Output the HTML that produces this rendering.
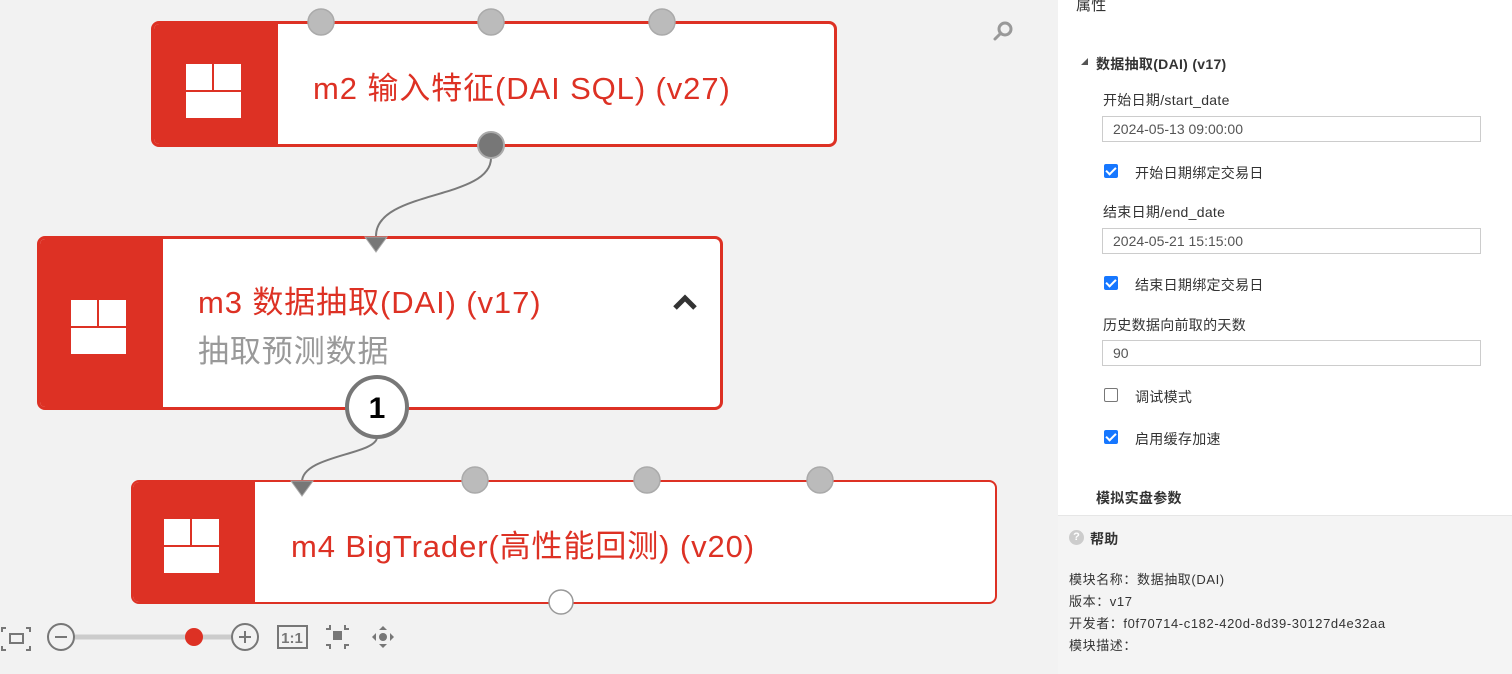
<!DOCTYPE html>
<html><head><meta charset="utf-8"><style>
*{margin:0;padding:0;box-sizing:border-box}
body{width:1512px;height:674px;overflow:hidden;background:#f2f2f2;font-family:"Liberation Sans","Noto Sans CJK SC",sans-serif;position:relative}
.a{position:absolute;white-space:nowrap}
.node{position:absolute;background:#fff;border:3px solid #dd3124;border-radius:8px;overflow:hidden}
.node .l{position:absolute;left:0;top:0;bottom:0;background:#dd3124}
.ic{position:absolute;width:55px;height:54px}
.ic div{position:absolute;background:#fff}
.t{position:absolute;color:#dd3124;font-size:31px;letter-spacing:0.9px;white-space:nowrap;font-family:"Liberation Sans","Noto Sans CJK SC",sans-serif}
#panel{position:absolute;left:1058px;top:0;width:454px;height:674px;background:#fff}
.lab{position:absolute;font-size:14px;color:#333;white-space:nowrap;letter-spacing:0.3px}
.inp{position:absolute;left:1102px;width:379px;height:26px;border:1px solid #ccc;font-size:14px;color:#555;padding:4px 10px;font-family:"Liberation Sans",sans-serif}
.cb{position:absolute;left:1104px;width:14px;height:14px;border-radius:2px;background:#1677ff}
.cb:after{content:"";position:absolute;left:4px;top:1px;width:4px;height:8px;border:solid #fff;border-width:0 2px 2px 0;transform:rotate(45deg)}
.cb.off{background:#fff;border:1px solid #777}
.cb.off:after{display:none}
</style></head><body>
<svg class="a" style="left:0;top:0" width="1058" height="674">
<path d="M491,158 C491,200 376,190 376,236" stroke="#7a7a7a" stroke-width="2" fill="none"/>
<path d="M377,437 C377,455 302,455 302,482" stroke="#7a7a7a" stroke-width="2" fill="none"/>
</svg>

<div class="node" style="left:151px;top:21px;width:686px;height:126px">
 <div class="l" style="width:124px"></div>
 <div class="ic" style="left:32px;top:40px"><div style="left:0;top:0;width:26px;height:26px"></div><div style="left:28px;top:0;width:27px;height:26px"></div><div style="left:0;top:28px;width:55px;height:26px"></div></div>
 <div class="t" style="left:159px;top:39px">m2 输入特征(DAI SQL) (v27)</div>
</div>

<div class="node" style="left:37px;top:236px;width:686px;height:174px">
 <div class="l" style="width:123px"></div>
 <div class="ic" style="left:31px;top:61px"><div style="left:0;top:0;width:26px;height:26px"></div><div style="left:28px;top:0;width:27px;height:26px"></div><div style="left:0;top:28px;width:55px;height:26px"></div></div>
 <div class="t" style="left:158px;top:38px">m3 数据抽取(DAI) (v17)</div>
 <div class="t" style="left:158px;top:87px;color:#999">抽取预测数据</div>
 <svg class="a" style="left:632px;top:54px" width="26" height="18"><path d="M3,15 L13,5 L23,15" stroke="#333" stroke-width="5" fill="none"/></svg>
</div>

<div class="node" style="left:131px;top:480px;width:866px;height:124px;border-width:2px">
 <div class="l" style="width:122px"></div>
 <div class="ic" style="left:31px;top:37px"><div style="left:0;top:0;width:26px;height:26px"></div><div style="left:28px;top:0;width:27px;height:26px"></div><div style="left:0;top:28px;width:55px;height:26px"></div></div>
 <div class="t" style="left:158px;top:39px">m4 BigTrader(高性能回测) (v20)</div>
</div>

<svg class="a" style="left:0;top:0" width="1058" height="674">
<g fill="#bbb" stroke="#aaa" stroke-width="1.5">
<circle cx="321" cy="22" r="13"/><circle cx="491" cy="22" r="13"/><circle cx="662" cy="22" r="13"/>
<circle cx="475" cy="480" r="13"/><circle cx="647" cy="480" r="13"/><circle cx="820" cy="480" r="13"/>
</g>
<circle cx="491" cy="145" r="13" fill="#777" stroke="#aaa" stroke-width="2"/>
<path d="M365,237 L387,237 L376,252 Z" fill="#777" stroke="#aaa"/>
<path d="M291,481 L313,481 L302,496 Z" fill="#777" stroke="#aaa"/>
<circle cx="377" cy="407" r="30" fill="#fff" stroke="#777" stroke-width="4"/>
<text x="377" y="418" text-anchor="middle" font-family="Liberation Sans" font-weight="bold" font-size="30" fill="#000">1</text>
<circle cx="561" cy="602" r="12" fill="#fff" stroke="#999" stroke-width="1.5"/>
<g stroke="#999" stroke-width="3" fill="none" stroke-linecap="round"><circle cx="1005" cy="29" r="6"/><path d="M1000,34 L995,39"/></g>
<g stroke="#777" stroke-width="2" fill="none">
<path d="M2,632 v-4 h4 M26,628 h4 v4 M30,646 v4 h-4 M6,650 h-4 v-4"/>
<rect x="10" y="634" width="13" height="9"/>
<circle cx="61" cy="637" r="13"/><path d="M55,637 h12"/>
<circle cx="245" cy="637" r="13"/><path d="M239,637 h12 M245,631 v12"/>
<rect x="278" y="626" width="29" height="22"/>
<path d="M330,625 v4 h-4 M345,625 v4 h4 M330,649 v-4 h-4 M345,649 v-4 h4"/>
</g>
<path d="M75,637 H231" stroke="#ccc" stroke-width="5"/>
<circle cx="194" cy="637" r="9" fill="#dd3124"/>
<text x="292" y="643" text-anchor="middle" font-family="Liberation Sans" font-weight="bold" font-size="15" fill="#777">1:1</text>
<rect x="333" y="631" width="9" height="9" fill="#777"/>
<circle cx="383" cy="637" r="4" fill="#777"/>
<g fill="#777"><path d="M383,626 l-4,4 h8z M383,648 l-4,-4 h8z M372,637 l4,-4 v8z M394,637 l-4,-4 v8z"/></g>
</svg>

<div id="panel"></div>
<div class="a" style="left:1058px;top:515px;width:454px;height:159px;background:#f4f4f4;border-top:1px solid #e6e6e6"></div>
<div class="lab" style="left:1076px;top:-6px;font-size:15px">属性</div>
<svg class="a" style="left:1080px;top:57px" width="10" height="10"><path d="M1,8 L8,8 L8,1 Z" fill="#555"/></svg>
<div class="lab" style="left:1096px;top:54px;font-weight:bold">数据抽取(DAI) (v17)</div>
<div class="lab" style="left:1103px;top:90px">开始日期/start_date</div>
<div class="inp" style="top:116px">2024-05-13 09:00:00</div>
<div class="cb" style="top:164px"></div><div class="lab" style="left:1135px;top:163px">开始日期绑定交易日</div>
<div class="lab" style="left:1103px;top:202px">结束日期/end_date</div>
<div class="inp" style="top:228px">2024-05-21 15:15:00</div>
<div class="cb" style="top:276px"></div><div class="lab" style="left:1135px;top:275px">结束日期绑定交易日</div>
<div class="lab" style="left:1103px;top:315px">历史数据向前取的天数</div>
<div class="inp" style="top:340px">90</div>
<div class="cb off" style="top:388px"></div><div class="lab" style="left:1135px;top:387px">调试模式</div>
<div class="cb" style="top:430px"></div><div class="lab" style="left:1135px;top:429px">启用缓存加速</div>
<div class="lab" style="left:1096px;top:488px;font-weight:bold">模拟实盘参数</div>
<div class="a" style="left:1069px;top:530px;width:15px;height:15px;border-radius:50%;background:#ccc;color:#fff;font-size:11px;text-align:center;line-height:15px;font-weight:bold">?</div>
<div class="lab" style="left:1090px;top:529px;font-weight:bold">帮助</div>
<div class="lab" style="left:1069px;top:569px;font-size:13px;letter-spacing:0.6px">模块名称：数据抽取(DAI)</div>
<div class="lab" style="left:1069px;top:591px;font-size:13px;letter-spacing:0.6px">版本：v17</div>
<div class="lab" style="left:1069px;top:613px;font-size:13px;letter-spacing:0.6px">开发者：f0f70714-c182-420d-8d39-30127d4e32aa</div>
<div class="lab" style="left:1069px;top:635px;font-size:13px;letter-spacing:0.6px">模块描述：</div>
</body></html>
